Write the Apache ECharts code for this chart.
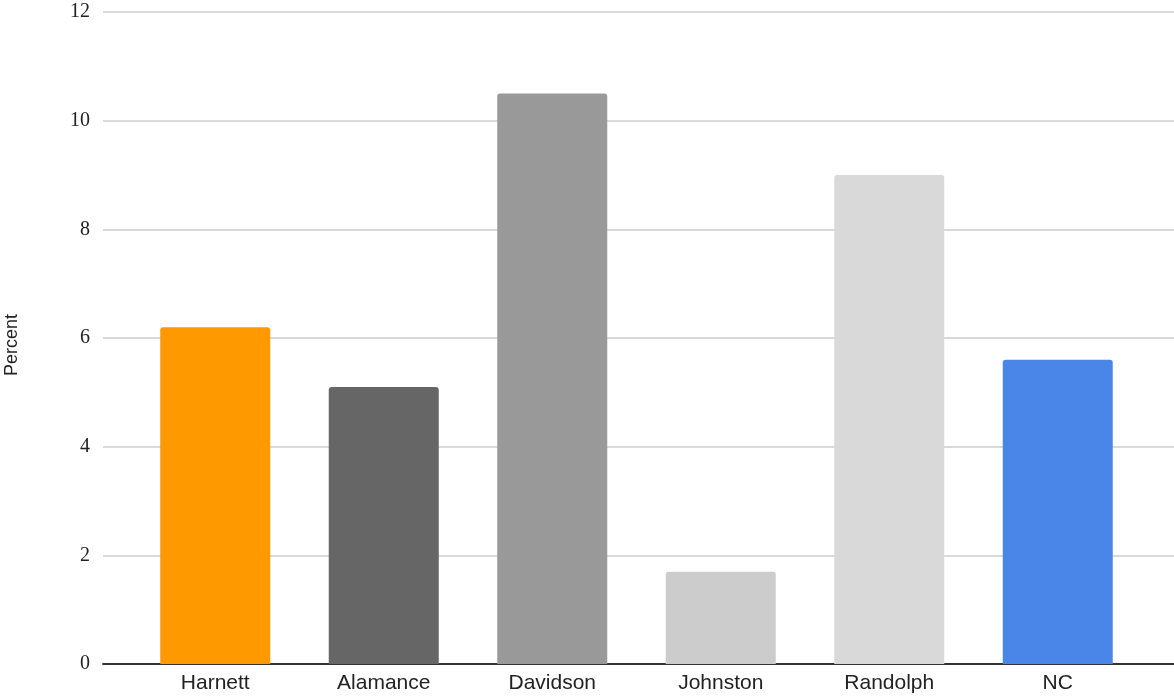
<!DOCTYPE html>
<html>
<head>
<meta charset="utf-8">
<script src="https://cdn.jsdelivr.net/npm/echarts@6/dist/echarts.min.js"></script>
<style>
  html, body { margin: 0; padding: 0; background: #fff; }
  #chart { width: 1174px; height: 698px; }
</style>
</head>
<body>
<div id="chart"></div>
<script>
// data
const counties = ['Harnett', 'Alamance', 'Davidson', 'Johnston', 'Randolph', 'NC']
const percent = [6.2, 5.1, 10.5, 1.7, 9.0, 5.6]
const barColors = ['#ff9900', '#666666', '#999999', '#cccccc', '#d9d9d9', '#4a86e8']
const yMin = 0
const yMax = 12
const yStep = 2

const chart = echarts.init(document.getElementById('chart'))
const option = {
  animation: false,
  // grid 0: gridlines, y labels and base line over full width
  // grid 1: bars, inset like the sheets chart
  grid: [
    { left: 103, right: 0, top: 12, bottom: 34 },
    { left: 131, right: 32, top: 12, bottom: 34 }
  ],
  graphic: [
    {
      type: 'text',
      x: 12,
      y: 345,
      rotation: Math.PI / 2,
      style: {
        text: 'Percent',
        font: '18px "Liberation Sans", Arial, sans-serif',
        fill: '#222',
        align: 'center',
        verticalAlign: 'middle'
      }
    }
  ],
  xAxis: [
    {
      gridIndex: 0,
      type: 'value',
      min: 0,
      max: 1,
      axisLine: { show: true, onZero: false, lineStyle: { color: '#333', width: 2 } },
      axisTick: { show: false },
      axisLabel: { show: false },
      splitLine: { show: false }
    },
    {
      gridIndex: 1,
      type: 'category',
      data: counties,
      axisTick: { show: false },
      axisLine: { show: false },
      axisLabel: {
        color: '#222',
        fontSize: 21,
        fontFamily: '"Liberation Sans", Arial, sans-serif',
        margin: 9
      }
    }
  ],
  yAxis: [
    {
      gridIndex: 0,
      type: 'value',
      min: yMin,
      max: yMax,
      interval: yStep,
      axisLine: { show: false },
      axisTick: { show: false },
      splitLine: { lineStyle: { color: '#cccccc', width: 1.5 } },
      axisLabel: {
        color: '#222',
        fontSize: 20,
        fontFamily: '"Liberation Serif", "Times New Roman", serif',
        margin: 13
      }
    },
    {
      gridIndex: 1,
      type: 'value',
      min: yMin,
      max: yMax,
      interval: yStep,
      show: false,
      splitLine: { show: false }
    }
  ],
  series: [
    {
      type: 'bar',
      xAxisIndex: 1,
      yAxisIndex: 1,
      barWidth: 110,
      z: 3,
      data: percent.map((v, i) => ({
        value: v,
        itemStyle: { color: barColors[i], borderRadius: [3, 3, 0, 0] }
      }))
    }
  ]
}
chart.setOption(option)
</script>
</body>
</html>
